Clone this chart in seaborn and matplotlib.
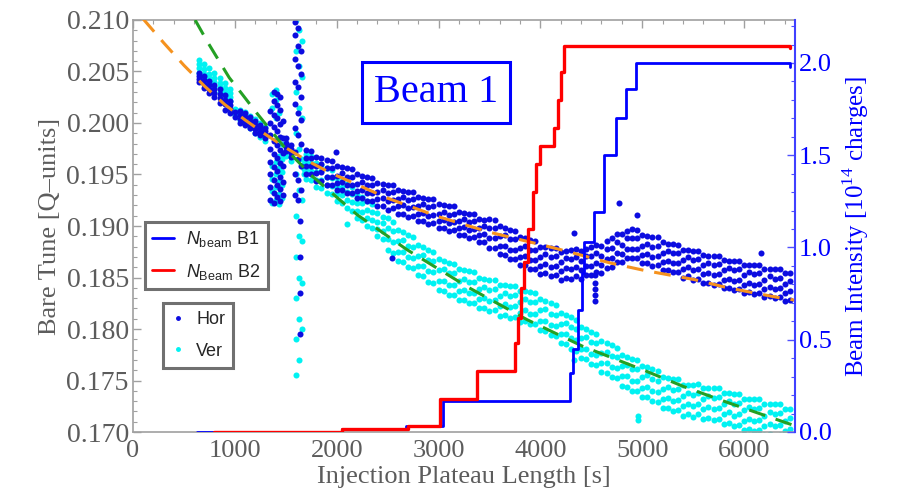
import numpy as np
import pandas as pd
import matplotlib
matplotlib.use('Agg')
import matplotlib.pyplot as plt
import seaborn as sns
from matplotlib.lines import Line2D
from matplotlib.ticker import MultipleLocator, FormatStrFormatter

# ---------------- data ----------------
# tune points, grouped per time stamp [s]; each row = tune values seen at that time

hor_early_x = [650, 700, 750, 800, 850, 900, 950, 1000, 1050, 1100, 1150, 1200, 1250, 1300, 1500, 1550]
hor_early_y = [
    [.2040, .2043, .2046, .2049], [.2034, .2038, .2042, .2046], [.2029, .2033, .2037, .2041],
    [.2025, .2029, .2033, .2037], [.2019, .2024, .2028, .2033], [.2013, .2018, .2022, .2027],
    [.2010, .2014, .2017, .2021], [.2006, .2011], [.2000, .2004, .2008, .2012],
    [.1998, .2002, .2006, .2010], [.1995, .1999, .2002, .2006], [.1990, .1994, .1998, .2002],
    [.1988, .1991, .1995, .1998], [.1985, .1989, .1992, .1995], [.1973, .1977, .1981, .1985],
    [.1967, .1971, .1975, .1979],
]
hor_spike_x = [1350, 1380, 1410, 1440, 1470, 1590, 1620, 1640, 1650]
hor_spike_y = [
    [.1925, .1938, .1950, .1962, .1975, .1988, .2000, .2012],
    [.1922, .1932, .1945, .1957, .1970, .1983, .1996, .2008, .2021, .2030],
    [.1928, .1940, .1953, .1966, .1979, .1992, .2005, .2017, .2028],
    [.1924, .1936, .1948, .1961, .1974, .1986, .1999, .2013, .2025],
    [.1930, .1943, .1958, .1971, .1985, .2002],
    [.1930, .1950, .1972, .1995, .2018, .2040, .2062, .2085, .2098],
    [.1925, .1945, .1965, .1988, .2010, .2035, .2055, .2075, .2092],
    [.1905, .1870, .1835, .1795],
    [.1935, .1958, .1980, .2003, .2025, .2048, .2070],
]
hor_stray_x = [2540, 4540, 4540, 4540, 4540, 4540, 4770, 4945, 6170, 1990, 4330]
hor_stray_y = [.1869, .1852, .1845, .1839, .1833, .1827, .1922, .1911, .1874, .1972, .1893]

main_x = [1700, 1750, 1800, 1850, 1900, 1950, 2000, 2050, 2100, 2150, 2200, 2250, 2300, 2350,
          2400, 2450, 2500, 2550, 2600, 2650, 2700, 2750, 2800, 2850, 2900, 2950, 3000, 3050,
          3100, 3150, 3200, 3250, 3300, 3350, 3400, 3450, 3500, 3550, 3600, 3650, 3700, 3750,
          3800, 3850, 3900, 3950, 4000, 4050, 4100, 4150, 4200, 4250, 4300, 4350, 4400, 4450,
          4500, 4550, 4600, 4650, 4700, 4750, 4800, 4850, 4900, 4950, 5000, 5050, 5100, 5150,
          5200, 5250, 5300, 5350, 5400, 5450, 5500, 5550, 5600, 5650, 5700, 5750, 5800, 5850,
          5900, 5950, 6000, 6050, 6100, 6150, 6200, 6250, 6300, 6350, 6400, 6450]

hor_main_y = [
    [.1950, .1958, .1966, .1974], [.1950, .1958, .1966, .1973], [.1944, .1951, .1958, .1967],
    [.1944, .1952, .1960, .1966], [.1940, .1948, .1956, .1964], [.1940, .1948, .1956, .1963],
    [.1935, .1942, .1949, .1958], [.1935, .1943, .1951, .1957], [.1932, .1940, .1948, .1956],
    [.1932, .1940, .1948, .1955], [.1927, .1934, .1941, .1950], [.1927, .1935, .1943, .1949],
    [.1924, .1932, .1940, .1948], [.1924, .1932, .1940, .1947], [.1919, .1926, .1933, .1942],
    [.1919, .1927, .1935, .1941], [.1916, .1924, .1932, .1940], [.1917, .1925, .1933, .1940],
    [.1912, .1919, .1926, .1935], [.1912, .1920, .1928, .1934], [.1909, .1917, .1925, .1933],
    [.1910, .1918, .1926, .1933], [.1905, .1912, .1919, .1928], [.1905, .1913, .1921, .1927],
    [.1902, .1910, .1918, .1926], [.1903, .1911, .1919, .1926], [.1898, .1905, .1912, .1921],
    [.1898, .1906, .1914, .1920], [.1895, .1903, .1911, .1919], [.1896, .1904, .1912, .1919],
    [.1891, .1898, .1905, .1914], [.1891, .1899, .1907, .1913], [.1888, .1896, .1904, .1912],
    [.1889, .1897, .1905, .1912], [.1884, .1891, .1898, .1907], [.1884, .1892, .1900, .1906],
    [.1879, .1888, .1898, .1907], [.1879, .1888, .1898, .1906], [.1873, .1881, .1890, .1900],
    [.1872, .1881, .1891, .1898], [.1868, .1877, .1887, .1896], [.1868, .1877, .1887, .1895],
    [.1862, .1870, .1879, .1889], [.1862, .1871, .1881, .1888], [.1858, .1867, .1877, .1886],
    [.1858, .1867, .1877, .1885], [.1853, .1861, .1870, .1880], [.1854, .1863, .1873, .1880],
    [.1851, .1860, .1870, .1879], [.1852, .1861, .1871, .1879], [.1848, .1856, .1865, .1875],
    [.1850, .1859, .1869, .1876], [.1849, .1858, .1868, .1877], [.1851, .1860, .1870, .1878],
    [.1849, .1857, .1866, .1876], [.1852, .1861, .1871, .1878], [.1852, .1861, .1871, .1880],
    [.1855, .1864, .1874, .1882], [.1854, .1862, .1871, .1881], [.1859, .1868, .1878, .1885],
    [.1860, .1869, .1879, .1888], [.1865, .1874, .1884, .1892], [.1865, .1873, .1882, .1892],
    [.1869, .1878, .1888, .1895], [.1869, .1878, .1888, .1897], [.1869, .1878, .1888, .1896],
    [.1864, .1872, .1881, .1891], [.1864, .1873, .1883, .1890], [.1861, .1870, .1880, .1889],
    [.1862, .1871, .1881, .1889], [.1857, .1865, .1874, .1884], [.1857, .1866, .1876, .1883],
    [.1855, .1864, .1874, .1883], [.1855, .1864, .1874, .1882], [.1850, .1858, .1867, .1877],
    [.1851, .1860, .1870, .1877], [.1848, .1857, .1867, .1876], [.1849, .1858, .1868, .1876],
    [.1845, .1853, .1862, .1872], [.1845, .1854, .1864, .1871], [.1843, .1852, .1862, .1871],
    [.1844, .1853, .1863, .1871], [.1840, .1848, .1857, .1867], [.1840, .1849, .1859, .1866],
    [.1838, .1847, .1857, .1866], [.1839, .1848, .1858, .1866], [.1835, .1843, .1852, .1862],
    [.1836, .1845, .1855, .1862], [.1834, .1843, .1853, .1862], [.1835, .1844, .1854, .1862],
    [.1831, .1839, .1848, .1858], [.1832, .1841, .1851, .1858], [.1830, .1839, .1849, .1858],
    [.1831, .1840, .1850, .1858], [.1827, .1835, .1844, .1854], [.1828, .1837, .1847, .1854],
]

ver_early_x = [650, 700, 750, 800, 850, 900, 950, 1000, 1050, 1100, 1150, 1200, 1250, 1300, 1500, 1550]
ver_early_y = [
    [.2049, .2053, .2057, .2061], [.2043, .2048, .2052, .2057], [.2039, .2044, .2048, .2053],
    [.2035, .2040, .2044, .2049], [.2030, .2035, .2039, .2044], [.2025, .2030, .2034, .2039],
    [.2021, .2025, .2029, .2033], [.2008, .2014], [.2003, .2009, .2013], [.1999, .2005, .2011],
    [.1995, .2001, .2007], [.1990, .1997, .2004], [.1986, .1993, .2000], [.1983, .1989, .1996],
    [.1968, .1973, .1978], [.1963, .1968, .1973],
]
ver_spike_x = [1360, 1400, 1430, 1460, 1600, 1630, 1660, 1680]
ver_spike_y = [
    [.1922, .1934, .1946, .1958, .2015, .2028],
    [.1925, .1938, .1950, .1962, .2005, .2022, .2032],
    [.1921, .1931, .1944, .1956, .1968, .2010],
    [.1927, .1940, .1952, .1965, .1980],
    [.1755, .1790, .1830, .1870, .1910, .1950, .1990, .2030, .2070, .2100],
    [.1770, .1810, .1850, .1890, .1935, .1975, .2015, .2055, .2090],
    [.1800, .1845, .1885, .1925, .1965, .2005, .2045, .2080],
    [.1950, .1955, .1960],
]
ver_stray_x = [4955, 4955, 2100, 4330]
ver_stray_y = [.1716, .1712, .1902, .1770]

ver_main_y = [
    [.1946, .1954, .1962, .1970], [.1945, .1953, .1961, .1968], [.1938, .1945, .1952, .1961],
    [.1937, .1945, .1953, .1959], [.1932, .1940, .1948, .1956], [.1931, .1939, .1947, .1954],
    [.1924, .1931, .1938, .1947], [.1922, .1930, .1938, .1944], [.1917, .1925, .1933, .1941],
    [.1915, .1923, .1931, .1938], [.1908, .1915, .1922, .1931], [.1906, .1914, .1922, .1928],
    [.1900, .1908, .1916, .1924], [.1898, .1906, .1914, .1921], [.1890, .1897, .1904, .1913],
    [.1887, .1895, .1903, .1909], [.1877, .1887, .1898, .1908], [.1874, .1884, .1895, .1904],
    [.1866, .1875, .1885, .1896], [.1865, .1875, .1886, .1894], [.1860, .1870, .1881, .1891],
    [.1859, .1869, .1880, .1889], [.1852, .1861, .1871, .1882], [.1851, .1861, .1872, .1880],
    [.1846, .1856, .1867, .1877], [.1845, .1855, .1866, .1875], [.1838, .1847, .1857, .1868],
    [.1837, .1847, .1858, .1866], [.1833, .1843, .1854, .1864], [.1833, .1843, .1854, .1863],
    [.1828, .1837, .1847, .1858], [.1828, .1838, .1849, .1857], [.1825, .1835, .1846, .1856],
    [.1825, .1835, .1846, .1855], [.1820, .1829, .1839, .1850], [.1820, .1830, .1841, .1849],
    [.1817, .1827, .1838, .1848], [.1818, .1828, .1839, .1848], [.1813, .1822, .1832, .1843],
    [.1814, .1824, .1835, .1843], [.1811, .1821, .1832, .1842], [.1812, .1822, .1833, .1842],
    [.1807, .1816, .1826, .1837], [.1808, .1818, .1829, .1837], [.1805, .1815, .1826, .1836],
    [.1805, .1815, .1826, .1835], [.1799, .1808, .1818, .1829], [.1798, .1808, .1819, .1827],
    [.1794, .1804, .1815, .1825], [.1793, .1803, .1814, .1823], [.1786, .1795, .1805, .1816],
    [.1785, .1795, .1806, .1814], [.1781, .1791, .1802, .1812], [.1779, .1789, .1800, .1809],
    [.1772, .1781, .1791, .1802], [.1771, .1781, .1792, .1800], [.1766, .1776, .1787, .1797],
    [.1765, .1775, .1786, .1795], [.1758, .1767, .1777, .1788], [.1757, .1767, .1778, .1786],
    [.1753, .1763, .1774, .1784], [.1752, .1762, .1773, .1782], [.1745, .1754, .1764, .1775],
    [.1744, .1754, .1765, .1773], [.1740, .1750, .1761, .1771], [.1740, .1750, .1761, .1770],
    [.1734, .1743, .1753, .1764], [.1734, .1744, .1755, .1763], [.1730, .1740, .1751, .1761],
    [.1729, .1739, .1750, .1759], [.1723, .1732, .1742, .1753], [.1723, .1733, .1744, .1752],
    [.1720, .1730, .1741, .1751], [.1721, .1731, .1742, .1751], [.1716, .1725, .1735, .1746],
    [.1717, .1727, .1738, .1746], [.1715, .1725, .1736, .1746], [.1717, .1727, .1738, .1747],
    [.1713, .1722, .1732, .1743], [.1714, .1724, .1735, .1743], [.1712, .1722, .1733, .1743],
    [.1713, .1723, .1734, .1743], [.1708, .1717, .1727, .1738], [.1709, .1719, .1730, .1738],
    [.1706, .1716, .1727, .1737], [.1707, .1717, .1728, .1737], [.1702, .1711, .1721, .1732],
    [.1703, .1713, .1724, .1732], [.1701, .1711, .1722, .1732], [.1702, .1712, .1723, .1732],
    [.1697, .1706, .1716, .1727], [.1698, .1708, .1719, .1727], [.1696, .1706, .1717, .1727],
    [.1697, .1707, .1718, .1727], [.1692, .1701, .1711, .1722], [.1693, .1703, .1714, .1722],
]

# fitted curves (dashed)
hfit_x = [100, 300, 500, 700, 900, 1100, 1300, 1500, 1700, 1930, 2500, 3000, 3500, 4000,
          4200, 4690, 5015, 5510, 5840, 6365, 6500]
hfit_y = [.2101, .2078, .2056, .2036, .2018, .2003, .1989, .1976, .1964, .1952, .1927, .1909,
          .1894, .1882, .1877, .1864, .1857, .1848, .1840, .1830, .1828]
vfit_x = [610, 730, 828, 945, 1064, 1212, 1507, 1764, 2200, 2690, 3300, 3870, 4420, 5015,
          5410, 5800, 6235, 6530]
vfit_y = [.2100, .2079, .2063, .2044, .2029, .2010, .1974, .1948, .1911, .1877, .1840, .1809,
          .1783, .1760, .1744, .1730, .1715, .1705]

# beam intensities [1e14 charges], step changes
b1_x = [630, 2050, 2680, 3045, 4295, 4325, 4365, 4410, 4425, 4525, 4620, 4740, 4840, 4935, 6450]
b1_y = [0.0, 0.015, 0.03, 0.17, 0.32, 0.45, 0.66, 0.86, 1.03, 1.19, 1.50, 1.70, 1.86, 2.00, 1.98]
b2_x = [800, 2050, 2700, 3010, 3380, 3750, 3780, 3810, 3840, 3880, 3930, 3960, 4000, 4130,
        4170, 4200, 4230, 6450]
b2_y = [0.0, 0.015, 0.03, 0.18, 0.33, 0.48, 0.62, 0.78, 0.92, 1.10, 1.30, 1.45, 1.55, 1.65,
        1.80, 1.95, 2.09, 2.08]

# ---------------- styling ----------------
GRAY = '#5c5c5c'
SPINE = '#a0a0a0'
BLUE = '#0000ff'
HOR_C = '#0c0ce0'
VER_C = '#00f2f2'
RED = '#ff0000'
ORANGE = '#f5921e'
GREEN = '#24a024'


def flat(xs, rows):
    return [x for x, r in zip(xs, rows) for _ in r], [v for r in rows for v in r]


def points(parts):
    tx, ty = [], []
    for xs, ys in parts:
        tx += xs
        ty += ys
    return pd.DataFrame({'t': tx, 'tune': ty})


df_hor = points([flat(hor_early_x, hor_early_y), flat(hor_spike_x, hor_spike_y),
                 flat(main_x, hor_main_y), (hor_stray_x, hor_stray_y)])
df_ver = points([flat(ver_early_x, ver_early_y), flat(ver_spike_x, ver_spike_y),
                 flat(main_x, ver_main_y), (ver_stray_x, ver_stray_y)])

sns.set_theme(style='white')
plt.rcParams['font.family'] = ['Liberation Serif', 'DejaVu Serif']
plt.rcParams['mathtext.fontset'] = 'custom'
plt.rcParams['mathtext.rm'] = 'Liberation Sans'
plt.rcParams['mathtext.it'] = 'Liberation Sans:italic'
plt.rcParams['mathtext.sf'] = 'Liberation Serif'

fig = plt.figure(figsize=(9.1, 4.99), dpi=100)
ax = fig.add_axes([133 / 910, 67 / 499, 662 / 910, 412 / 499])
ax2 = ax.twinx()

sns.scatterplot(data=df_ver, x='t', y='tune', ax=ax, color=VER_C, s=19, linewidth=0, zorder=2)
sns.scatterplot(data=df_hor, x='t', y='tune', ax=ax, color=HOR_C, s=19, linewidth=0, zorder=2)
sns.lineplot(x=hfit_x, y=hfit_y, ax=ax, color=ORANGE, lw=2.2, linestyle=(0, (5.5, 3.6)),
             sort=False, estimator=None, zorder=3)
sns.lineplot(x=vfit_x, y=vfit_y, ax=ax, color=GREEN, lw=2.2, linestyle=(0, (5.5, 3.6)),
             sort=False, estimator=None, zorder=3)

sns.lineplot(x=b1_x, y=b1_y, ax=ax2, color=BLUE, lw=2.0, drawstyle='steps-post',
             sort=False, estimator=None)
sns.lineplot(x=b2_x, y=b2_y, ax=ax2, color=RED, lw=2.4, drawstyle='steps-post',
             sort=False, estimator=None)

ax.set_xlim(0, 6500)
ax.set_ylim(0.170, 0.210)
ax2.set_ylim(0, 2.233)

ax.xaxis.set_major_locator(MultipleLocator(1000))
ax.xaxis.set_minor_locator(MultipleLocator(200))
ax.yaxis.set_major_locator(MultipleLocator(0.005))
ax.yaxis.set_minor_locator(MultipleLocator(0.001))
ax.yaxis.set_major_formatter(FormatStrFormatter('%.3f'))
ax2.yaxis.set_major_locator(MultipleLocator(0.5))
ax2.yaxis.set_minor_locator(MultipleLocator(0.1))
ax2.yaxis.set_major_formatter(FormatStrFormatter('%.1f'))

ax.tick_params(which='both', direction='in', top=True, right=False, color=SPINE,
               labelcolor=GRAY, labelsize=19, pad=3)
ax.tick_params(axis='y', labelsize=20)
ax.tick_params(axis='x', pad=6)
ax.tick_params(which='major', length=6, width=1)
ax.tick_params(which='minor', length=3, width=0.8)
ax2.tick_params(axis='y', which='both', direction='in', color='#5050ff', labelcolor=BLUE,
                labelsize=19, pad=3)
ax2.tick_params(axis='y', which='major', length=6, width=1)
ax2.tick_params(axis='y', which='minor', length=3, width=0.8)

for name in ['left', 'bottom', 'top']:
    ax.spines[name].set_color(SPINE)
    ax.spines[name].set_linewidth(1.2)
    ax2.spines[name].set_visible(False)
ax.spines['right'].set_visible(False)
ax2.spines['right'].set_color('#4040ff')
ax2.spines['right'].set_linewidth(1.5)

ax.set_xlabel('Injection Plateau Length [s]', fontsize=19, color=GRAY, labelpad=3)
ax.set_ylabel('Bare Tune [Q\u2013units]', fontsize=19, color=GRAY, labelpad=4)
ax2.set_ylabel(r'Beam Intensity [$\mathsf{10}^{\mathsf{14}}$ charges]', fontsize=18,
               color=BLUE, rotation=90, labelpad=6)

leg_kw = dict(frameon=True, fancybox=False, framealpha=1, borderaxespad=0,
              prop={'family': 'Liberation Sans', 'size': 13})
beam_handles = [Line2D([], [], color=BLUE, lw=2), Line2D([], [], color=RED, lw=2)]
leg1 = ax2.legend(beam_handles, [r'$N_{\mathrm{beam}}$ B1', r'$N_{\mathrm{Beam}}$ B2'],
                  loc='upper left', bbox_to_anchor=(0.018, 0.51), handlelength=1.2,
                  handletextpad=0.7, labelspacing=0.7, borderpad=0.4, **leg_kw)
tune_handles = [Line2D([], [], marker='o', ls='', color=HOR_C, markersize=2.5),
                Line2D([], [], marker='o', ls='', color=VER_C, markersize=2.5)]
leg2 = ax.legend(tune_handles, ['Hor', 'Ver'], loc='upper left', bbox_to_anchor=(0.045, 0.313),
                 handlelength=0.8, handletextpad=0.6, labelspacing=0.8, borderpad=0.45, **leg_kw)
for leg in (leg1, leg2):
    leg.get_frame().set_edgecolor('#707070')
    leg.get_frame().set_linewidth(2.2)

fig.text(0.479, 0.814, 'Beam 1', ha='center', va='center', fontsize=29, color=BLUE,
         family='Liberation Serif',
         bbox=dict(boxstyle='square,pad=0.3', fc='white', ec=BLUE, lw=2.2))

fig.savefig('out.png', dpi=100)
